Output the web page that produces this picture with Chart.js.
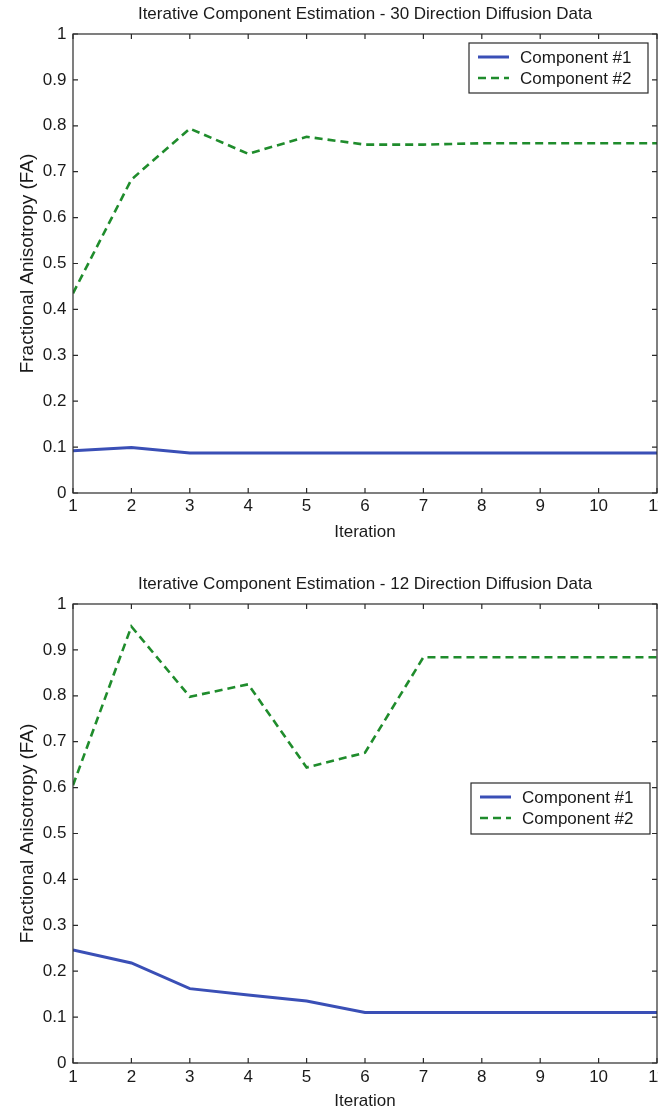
<!DOCTYPE html>
<html>
<head>
<meta charset="utf-8">
<script src="https://cdn.jsdelivr.net/npm/chart.js@4/dist/chart.umd.min.js"></script>
<style>
  html, body { margin: 0; padding: 0; background: #fff; }
  body { width: 665px; height: 1110px; overflow: hidden; position: relative; }
  .panel { position: absolute; left: 0; width: 658px; height: 555px; overflow: hidden; }
  #p1 { top: 0; }
  #p2 { top: 555px; }
  canvas { display: block; }
</style>
</head>
<body>
<div class="panel" id="p1"><canvas id="c1" width="680" height="555"></canvas></div>
<div class="panel" id="p2"><canvas id="c2" width="680" height="555"></canvas></div>
<script>
// Iteration axis
const iterations  = [1, 2, 3, 4, 5, 6, 7, 8, 9, 10, 11];
const xTickLabels = ['1', '2', '3', '4', '5', '6', '7', '8', '9', '10', '11'];

// FA axis
const yTickValues = [0, 0.1, 0.2, 0.3, 0.4, 0.5, 0.6, 0.7, 0.8, 0.9, 1];
const yTickLabels = ['0', '0.1', '0.2', '0.3', '0.4', '0.5', '0.6', '0.7', '0.8', '0.9', '1'];

const seriesNames = ['Component #1', 'Component #2'];
const xAxisTitle = 'Iteration';
const yAxisTitle = 'Fractional Anisotropy (FA)';

// 30 direction diffusion data
const title30 = 'Iterative Component Estimation - 30 Direction Diffusion Data';
const fa30Component1 = [0.092, 0.099, 0.087, 0.087, 0.087, 0.087, 0.087, 0.087, 0.087, 0.087, 0.087];
const fa30Component2 = [0.435, 0.683, 0.794, 0.739, 0.776, 0.759, 0.759, 0.762, 0.762, 0.762, 0.762];

// 12 direction diffusion data
const title12 = 'Iterative Component Estimation - 12 Direction Diffusion Data';
const fa12Component1 = [0.246, 0.218, 0.162, 0.148, 0.135, 0.110, 0.110, 0.110, 0.110, 0.110, 0.110];
const fa12Component2 = [0.605, 0.951, 0.798, 0.825, 0.644, 0.676, 0.884, 0.884, 0.884, 0.884, 0.884];

const FONT = "'Liberation Sans', Arial, Helvetica, sans-serif";
const INK = '#1a1a1a';
const BLUE = '#3a4fb6';
const GREEN = '#1f8c2c';

// Axes box with inward tick marks on all four sides
const axesBox = {
  id: 'axesBox',
  afterDatasetsDraw(chart) {
    const { ctx, chartArea: a, scales: { x, y } } = chart;
    const len = 5;
    ctx.save();
    ctx.strokeStyle = '#2a2a2a';
    ctx.lineWidth = 1.2;
    ctx.strokeRect(a.left, a.top, a.right - a.left, a.bottom - a.top);
    ctx.beginPath();
    x.ticks.forEach(t => {
      const px = x.getPixelForValue(t.value);
      ctx.moveTo(px, a.bottom); ctx.lineTo(px, a.bottom - len);
      ctx.moveTo(px, a.top);    ctx.lineTo(px, a.top + len);
    });
    y.ticks.forEach(t => {
      const py = y.getPixelForValue(t.value);
      ctx.moveTo(a.left, py);  ctx.lineTo(a.left + len, py);
      ctx.moveTo(a.right, py); ctx.lineTo(a.right - len, py);
    });
    ctx.stroke();
    ctx.restore();
  }
};

// Boxed legend placed inside the axes
const boxedLegend = {
  id: 'boxedLegend',
  afterDraw(chart, args, opts) {
    const { ctx, chartArea: a } = chart;
    const w = opts.width, h = opts.height;
    const left = a.right - opts.right - w;
    const top = a.top + opts.top;
    ctx.save();
    ctx.fillStyle = '#fff';
    ctx.fillRect(left, top, w, h);
    ctx.strokeStyle = '#2a2a2a';
    ctx.lineWidth = 1.2;
    ctx.strokeRect(left, top, w, h);
    ctx.font = '17px ' + FONT;
    ctx.textBaseline = 'middle';
    ctx.fillStyle = INK;
    chart.data.datasets.forEach((ds, i) => {
      const cy = top + 14 + i * 21;
      ctx.beginPath();
      ctx.strokeStyle = ds.borderColor;
      ctx.lineWidth = ds.borderWidth;
      ctx.setLineDash(ds.borderDash || []);
      ctx.moveTo(left + 9, cy);
      ctx.lineTo(left + 40, cy);
      ctx.stroke();
      ctx.setLineDash([]);
      ctx.fillText(ds.label, left + 51, cy + 1);
    });
    ctx.restore();
  }
};

function makeChart(id, title, comp1, comp2, lay) {
  const pts = vals => vals.map((v, i) => ({ x: iterations[i], y: v }));
  return new Chart(document.getElementById(id), {
    type: 'line',
    data: {
      datasets: [
        { label: seriesNames[0], data: pts(comp1), borderColor: BLUE, borderWidth: 3,
          pointRadius: 0, tension: 0, fill: false },
        { label: seriesNames[1], data: pts(comp2), borderColor: GREEN, borderWidth: 2.6,
          borderDash: [8, 5], pointRadius: 0, tension: 0, fill: false }
      ]
    },
    options: {
      responsive: false,
      animation: false,
      events: [],
      layout: { padding: { left: 0, right: 23, top: 0, bottom: 0 } },
      plugins: {
        legend: { display: false },
        tooltip: { enabled: false },
        title: {
          display: true, text: title, fullSize: false, color: INK,
          font: { family: FONT, size: 17, weight: 'normal', lineHeight: 1.2 },
          padding: lay.titlePad
        },
        boxedLegend: lay.legend
      },
      scales: {
        x: {
          type: 'linear', min: 1, max: 11,
          grid: { display: false, drawTicks: false },
          border: { display: false },
          afterBuildTicks: s => { s.ticks = iterations.map(v => ({ value: v })); },
          afterFit: s => { s.height = lay.xHeight; },
          ticks: {
            autoSkip: false, maxRotation: 0, padding: lay.xTickPad, color: INK,
            font: { family: FONT, size: 17, lineHeight: 1.2 },
            callback: (v, i) => xTickLabels[i]
          },
          title: {
            display: true, text: xAxisTitle, color: INK,
            font: { family: FONT, size: 17, lineHeight: 1 },
            padding: { top: 0, bottom: lay.xTitlePad }
          }
        },
        y: {
          min: 0, max: 1,
          grid: { display: false, drawTicks: false },
          border: { display: false },
          afterBuildTicks: s => { s.ticks = yTickValues.map(v => ({ value: v })); },
          afterFit: s => { s.width = 73; },
          ticks: {
            padding: 6.5, color: INK,
            font: { family: FONT, size: 17, lineHeight: 1.2 },
            callback: (v, i) => yTickLabels[i]
          },
          title: {
            display: true, text: yAxisTitle, color: INK,
            font: { family: FONT, size: 19, lineHeight: 1 },
            padding: { top: 18, bottom: 0 }
          }
        }
      }
    },
    plugins: [axesBox, boxedLegend]
  });
}

makeChart('c1', title30, fa30Component1, fa30Component2, {
  titlePad: { top: 3.8, bottom: 9.8 },
  xHeight: 62, xTickPad: 3.5, xTitlePad: 14.5,
  legend: { right: 9, top: 9, width: 179, height: 50 }
});

makeChart('c2', title12, fa12Component1, fa12Component2, {
  titlePad: { top: 18.8, bottom: 9.8 },
  xHeight: 47, xTickPad: 4.5, xTitlePad: 0.5,
  legend: { right: 7, top: 179, width: 179, height: 51 }
});
</script>
</body>
</html>
